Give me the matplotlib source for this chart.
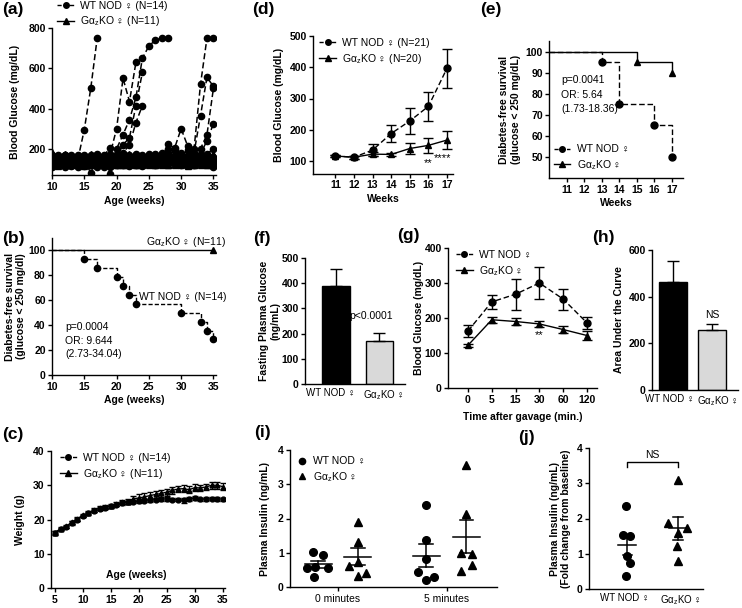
import numpy as np
import matplotlib
matplotlib.use("Agg")
import matplotlib.pyplot as plt
from matplotlib.lines import Line2D

# ---------------- data ----------------
FEM = "\u2640"
KO = "G\u03b1$_{z}$KO"

# (a) individual blood glucose, weekly from week 10
a_weeks = list(range(10, 36))
a_wt = [
    [150, 128, 165, 122, 146, 295, 500, 750],
    [135, 162, 118, 150, 108, 138, 82, 155, 130, 172, 300, 550, 435, 630],
    [120, 148, 170, 131, 160, 115, 150, 128, 165, 205, 200, 270, 345, 455, 650, 710, 740, 750, 750],
    [168, 118, 140, 162, 126, 150, 132, 170, 118, 75, 160, 220, 255, 415, 580],
    [110, 155, 128, 140, 170, 122, 160, 140, 150, 130, 175, 180, 220, 330, 415],
    [145, 120, 152, 115, 138, 168, 125, 150, 138, 160, 125, 152, 145, 160, 130, 150, 170, 155, 222, 205, 300, 215],
    [130, 165, 140, 155, 120, 142, 118, 162, 135, 150, 165, 130, 160, 120, 155, 140, 162, 150, 180, 165, 150, 155, 200, 520, 750, 750],
    [158, 135, 120, 168, 150, 128, 170, 122, 160, 118, 140, 170, 125, 168, 140, 175, 130, 160, 200, 145, 170, 135, 180, 365, 555, 510],
    [122, 150, 162, 130, 158, 140, 150, 135, 110, 165, 130, 145, 170, 135, 160, 150, 125, 180, 160, 195, 140, 165, 150, 200, 270, 500],
    [140, 118, 135, 150, 128, 160, 140, 170, 150, 125, 160, 120, 150, 172, 128, 165, 150, 140, 172, 150, 180, 140, 165, 175, 240, 325],
    [165, 140, 150, 118, 165, 130, 162, 110, 170, 140, 120, 162, 135, 150, 170, 125, 160, 170, 140, 158, 162, 195, 130, 150, 175, 200],
    [115, 160, 125, 145, 135, 150, 118, 142, 125, 155, 145, 135, 120, 160, 145, 135, 175, 125, 150, 130, 120, 150, 140, 160, 135, 160],
    [155, 125, 170, 135, 160, 118, 145, 130, 140, 112, 150, 140, 165, 125, 115, 158, 140, 165, 128, 170, 150, 120, 165, 130, 150, 110],
    [128, 170, 110, 160, 118, 165, 135, 175, 125, 150, 132, 158, 115, 145, 165, 138, 118, 150, 165, 125, 140, 168, 118, 140, 125, 140],
]
a_ko = [
    [140, 125, 160, 120, 150, 135, 165, 128, 150, 118, 160, 140, 125, 165, 140, 150, 118, 160, 135, 150, 125, 160, 140, 130, 155, 140],
    [160, 140, 118, 150, 130, 160, 120, 150, 170, 135, 150, 120, 160, 135, 150, 125, 165, 130, 150, 170, 140, 130, 165, 150, 120, 160],
    [118, 165, 140, 130, 165, 115, 150, 135, 125, 160, 120, 165, 140, 120, 160, 140, 135, 150, 120, 140, 160, 115, 150, 170, 140, 125],
    [175, 120, 150, 165, 118, 150, 135, 160, 140, 150, 175, 130, 150, 145, 125, 170, 150, 120, 165, 125, 150, 140, 125, 140, 165, 150],
    [130, 150, 170, 140, 150, 125, 160, 118, 135, 170, 140, 155, 118, 165, 135, 120, 140, 170, 140, 160, 118, 165, 150, 125, 135, 170],
    [150, 115, 135, 160, 140, 170, 128, 145, 160, 125, 135, 170, 150, 125, 170, 150, 125, 140, 155, 118, 170, 140, 120, 160, 150, 118],
    [122, 160, 150, 118, 170, 140, 150, 170, 118, 150, 160, 125, 175, 150, 120, 140, 160, 125, 118, 150, 140, 155, 170, 135, 118, 160],
    [165, 135, 125, 170, 125, 160, 118, 140, 150, 175, 118, 150, 135, 160, 150, 128, 150, 165, 150, 135, 160, 125, 140, 160, 150, 135],
    [135, 170, 160, 135, 160, 125, 175, 125, 165, 140, 150, 135, 160, 118, 140, 160, 118, 145, 170, 140, 130, 170, 118, 150, 170, 145],
    [185, 128, 140, 155, 135, 165, 140, 160, 128, 118, 170, 160, 140, 150, 160, 135, 170, 130, 140, 165, 150, 120, 160, 118, 140, 175],
    [125, 150, 175, 125, 155, 120, 150, 135, 170, 160, 130, 118, 165, 175, 128, 160, 140, 160, 125, 150, 170, 150, 135, 165, 160, 125],
]

# (b) diabetes-free survival
b_wt_weeks = [10, 15, 17, 20, 21, 22, 23, 30, 33, 34, 35]
b_wt_surv = [100, 92.9, 85.7, 78.6, 71.4, 64.3, 57.1, 50.0, 42.9, 35.7, 28.6]
b_ko_weeks = [10, 35]
b_ko_surv = [100, 100]

# (c) weight
c_weeks = list(range(5, 36))
c_wt = [16.0, 17.2, 17.8, 19.0, 20.0, 21.0, 21.8, 22.6, 23.2, 23.5, 23.8, 24.2, 24.8, 25.0, 25.2, 25.4,
        25.5, 25.6, 25.8, 25.9, 26.0, 25.8, 25.8, 25.6, 26.0, 26.3, 25.9, 26.0, 26.1, 26.0, 25.9]
c_wt_err = [0.5, 0.4, 0.4, 0.5, 0.5, 0.4, 0.4, 0.4, 0.4, 0.4, 0.4, 0.4, 0.5, 0.5, 0.5, 0.5,
            0.5, 0.5, 0.5, 0.5, 0.5, 0.5, 0.5, 0.7, 0.5, 0.5, 0.5, 0.5, 0.5, 0.5, 0.5]
c_ko = [16.2, 17.3, 18.0, 19.2, 20.2, 21.2, 22.0, 22.8, 23.3, 23.6, 24.0, 24.5, 25.0, 25.2, 26.0, 26.3,
        26.6, 27.0, 27.3, 27.6, 28.0, 28.5, 28.9, 29.0, 28.7, 29.3, 29.2, 29.5, 30.0, 30.0, 29.6]
c_ko_err = [0.5, 0.4, 0.4, 0.5, 0.5, 0.5, 0.5, 0.5, 0.5, 0.5, 0.5, 0.6, 0.6, 0.7, 1.0, 1.0,
            1.0, 1.0, 1.0, 1.0, 1.0, 1.0, 1.0, 1.0, 1.0, 1.0, 1.0, 1.0, 1.0, 1.0, 1.0]

# (d) mean blood glucose
d_weeks = [11, 12, 13, 14, 15, 16, 17]
d_wt = [116, 112, 135, 188, 228, 275, 397]
d_wt_err = [4, 4, 18, 28, 42, 47, 63]
d_ko = [116, 112, 122, 121, 140, 150, 167]
d_ko_err = [4, 4, 6, 5, 17, 23, 30]

# (e) diabetes-free survival
e_wt_weeks = [10, 13, 14, 16, 17]
e_wt_surv = [100, 95, 75, 65, 50]
e_ko_weeks = [10, 15, 17]
e_ko_surv = [100, 95, 90]

# (f) fasting glucose
bar_groups = ["WT NOD " + FEM, KO + " " + FEM]
f_vals = [390, 170]
f_err = [68, 32]

# (g) gavage time course
g_times = ["0", "5", "15", "30", "60", "120"]
g_wt = [163, 246, 268, 300, 254, 186]
g_wt_err = [17, 21, 44, 45, 30, 18]
g_ko = [122, 195, 190, 183, 167, 150]
g_ko_err = [4, 9, 10, 8, 10, 12]

# (h) AUC
h_vals = [462, 258]
h_err = [92, 25]

# (i) plasma insulin
i_times = ["0 minutes", "5 minutes"]
i_wt0 = [1.03, 0.92, 0.56, 0.58, 0.56, 0.30]
i_ko0 = [1.91, 1.30, 0.74, 0.61, 0.40, 0.32]
i_wt5 = [2.39, 1.37, 0.82, 0.43, 0.20, 0.28]
i_ko5 = [3.56, 2.13, 1.00, 0.96, 0.48, 0.64]

# (j) fold change
j_wt = [2.35, 1.52, 1.50, 0.95, 0.75, 0.38]
j_ko = [3.08, 1.88, 1.72, 1.60, 1.22, 0.80]

# ---------------- style ----------------
plt.rcParams.update({
    "font.family": ["Liberation Sans", "Noto Sans CJK JP", "DejaVu Sans"],
    "font.size": 7.5,
    "mathtext.default": "regular",
    "axes.linewidth": 1.0,
    "xtick.major.width": 1.0,
    "ytick.major.width": 1.0,
    "xtick.major.size": 3,
    "ytick.major.size": 3,
    "xtick.major.pad": 2,
    "ytick.major.pad": 1.5,
    "axes.labelweight": "bold",
    "axes.labelsize": 7.5,
    "legend.fontsize": 7.5,
})

W, H = 742, 608
fig = plt.figure(figsize=(7.42, 6.08), dpi=100)


def panel(x0, y0, x1, y1):
    ax = fig.add_axes([x0 / W, 1 - y1 / H, (x1 - x0) / W, (y1 - y0) / H])
    ax.spines[["top", "right"]].set_visible(False)
    return ax


def bold(ax, x=True, y=True):
    if x:
        plt.setp(ax.get_xticklabels(), fontweight="bold")
    if y:
        plt.setp(ax.get_yticklabels(), fontweight="bold")


def letter(x, y, s):
    fig.text(x / W, 1 - y / H, s, fontsize=12.5, fontweight="bold", va="top", ha="left")


def leg(ax, handles, labels, handlelength=1.6, **kw):
    ax.legend(handles, labels, frameon=False, handlelength=handlelength, handletextpad=0.6,
              labelspacing=0.35, borderpad=0.2, borderaxespad=0, **kw)


def group_labels(ax, shifts):
    # category names under the two groups, nudged sideways (points) so they do not collide
    ax.set_xticks([0, 1])
    ax.set_xticklabels([])
    ax.tick_params(axis="x", length=0)
    for i, (name, dx) in enumerate(zip(bar_groups, shifts)):
        ax.annotate(name, xy=(i, 0), xycoords=("data", "axes fraction"), xytext=(dx, -3),
                    textcoords="offset points", ha="center", va="top", fontsize=7)


h_wt = Line2D([], [], color="k", ls="--", marker="o", ms=4, lw=1, dashes=(3, 1.5))
h_ko = Line2D([], [], color="k", ls="-", marker="^", ms=4, lw=1)

# ---- (a)
ax = panel(52, 28, 216, 175)
for row in a_wt:
    ax.plot(a_weeks[:len(row)], row, color="k", ls="--", dashes=(4, 2), lw=1.1, marker="o", ms=4.5)
for row in a_ko:
    ax.plot(a_weeks, row, color="k", lw=1.1, marker="^", ms=4.5)
ax.set_xlim(10, 35.4)
ax.set_ylim(70, 800)
ax.set_xticks(range(10, 36, 5))
ax.set_yticks(range(200, 801, 200))
ax.set_xlabel("Age (weeks)", labelpad=3)
ax.set_ylabel("Blood Glucose (mg/dL)", labelpad=6)
bold(ax)
leg(ax, [h_wt, h_ko], ["WT NOD " + FEM + " (N=14)", KO + " " + FEM + " (N=11)"],
    loc="upper left", bbox_to_anchor=(0.02, 1.2))
letter(2, 2, "(a)")

# ---- (b)
ax = panel(52, 238, 216, 375)
ax.step(b_wt_weeks, b_wt_surv, where="post", color="k", ls="--", dashes=(3, 1.5), lw=1)
ax.plot(b_wt_weeks[1:], b_wt_surv[1:], "ko", ms=4.5)
ax.plot(b_ko_weeks, b_ko_surv, color="k", lw=1)
ax.plot(b_ko_weeks[-1:], b_ko_surv[-1:], "k^", ms=4.5)
ax.set_xlim(10, 35.4)
ax.set_ylim(0, 110)
ax.set_xticks(range(10, 36, 5))
ax.set_yticks(range(0, 101, 20))
ax.set_xlabel("Age (weeks)", labelpad=2)
ax.set_ylabel("Diabetes-free survival\n(glucose < 250 mg/dl)", labelpad=1.5)
bold(ax)
ax.text(37.0, 101.5, KO + " " + FEM + " (N=11)", ha="right", va="bottom")
ax.text(37.0, 62.5, "WT NOD " + FEM + " (N=14)", ha="right", va="center")
ax.text(12.0, 38.5, "p=0.0004", va="center")
ax.text(12.0, 27.5, "OR: 9.644", va="center")
ax.text(12.0, 16.5, "(2.73-34.04)", va="center")
letter(2, 231, "(b)")

# ---- (c)
ax = panel(51, 451, 225, 588)
ax.errorbar(c_weeks, c_ko, yerr=c_ko_err, color="k", lw=1, marker="^", ms=3.5, capsize=2, elinewidth=0.8)
ax.errorbar(c_weeks, c_wt, yerr=c_wt_err, color="k", ls="--", dashes=(3, 1.5), lw=1, marker="o",
            ms=3.5, capsize=2, elinewidth=0.8)
ax.set_xlim(4.3, 35.4)
ax.set_ylim(0, 40)
ax.set_xticks(range(5, 36, 5))
ax.set_yticks(range(0, 41, 10))
ax.text(0.49, 0.095, "Age (weeks)", transform=ax.transAxes, ha="center", va="center", fontweight="bold")
ax.set_ylabel("Weight (g)", labelpad=6)
bold(ax)
leg(ax, [h_wt, h_ko], ["WT NOD " + FEM + " (N=14)", KO + " " + FEM + " (N=11)"],
    loc="upper left", bbox_to_anchor=(0.04, 1.0))
letter(2, 427, "(c)")

# ---- (d)
ax = panel(313, 36, 453, 173.5)
ax.errorbar(d_weeks, d_wt, yerr=d_wt_err, color="k", ls="--", dashes=(4, 2), lw=1, marker="o", ms=5,
            capsize=3.5, elinewidth=1)
ax.errorbar(d_weeks, d_ko, yerr=d_ko_err, color="k", lw=1, marker="^", ms=5, capsize=3.5, elinewidth=1)
ax.set_xlim(9.8, 17.32)
ax.set_ylim(60, 500)
ax.set_xticks(d_weeks)
ax.set_yticks(range(100, 501, 100))
ax.set_xlabel("Weeks", labelpad=2.5)
ax.set_ylabel("Blood Glucose (mg/dL)", labelpad=4)
bold(ax)
ax.text(16, 93, "**", ha="center", va="center", fontsize=8)
ax.text(16.78, 108, "****", ha="center", va="center", fontsize=8)
leg(ax, [h_wt, h_ko], ["WT NOD " + FEM + " (N=21)", KO + " " + FEM + " (N=20)"],
    loc="upper left", bbox_to_anchor=(0.03, 1.0))
letter(252, 2, "(d)")

# ---- (e)
ax = panel(549, 41, 683, 178)
ax.step(e_ko_weeks, e_ko_surv, where="post", color="k", lw=1)
ax.plot(e_ko_weeks[1:], e_ko_surv[1:], "k^", ms=4.5)
ax.step(e_wt_weeks, e_wt_surv, where="post", color="k", ls="--", dashes=(4, 2), lw=1)
ax.plot(e_wt_weeks[1:], e_wt_surv[1:], "ko", ms=5)
ax.set_xlim(10, 17.63)
ax.set_ylim(40, 105)
ax.set_xticks(range(11, 18))
ax.set_yticks(range(50, 101, 10))
ax.set_xlabel("Weeks", labelpad=2)
ax.set_ylabel("Diabetes-free survival\n(glucose < 250 mg/dL)", labelpad=3.5)
bold(ax)
ax.text(10.7, 86.5, "p=0.0041", va="center")
ax.text(10.7, 79.6, "OR: 5.64", va="center")
ax.text(10.7, 72.8, "(1.73-18.36)", va="center")
leg(ax, [h_wt, h_ko], ["WT NOD " + FEM, KO + " " + FEM], loc="lower left", bbox_to_anchor=(0.02, 0.03))
letter(480, 2, "(e)")

# ---- (f)
ax = panel(305, 258, 405, 384)
ax.bar([0, 1], f_vals, width=0.63, color=["k", "#d9d9d9"], edgecolor="k", lw=1,
       yerr=[[0, 0], f_err], capsize=4.5, error_kw={"elinewidth": 1, "capthick": 1})
ax.set_xlim(-0.72, 1.6)
ax.set_ylim(0, 500)
group_labels(ax, [-4, 3])
ax.set_yticks(range(0, 501, 100))
ax.set_ylabel("Fasting Plasma Glucose\n(ng/mL)", labelpad=1)
bold(ax, x=False)
ax.text(0.82, 270, "p<0.0001", ha="center", va="center")
letter(253, 231, "(f)")

# ---- (g)
ax = panel(448, 248, 597, 388)
gx = np.arange(len(g_times))
ax.errorbar(gx, g_wt, yerr=g_wt_err, color="k", ls="--", dashes=(4, 2), lw=1, marker="o", ms=5,
            capsize=3.5, elinewidth=1)
ax.errorbar(gx, g_ko, yerr=g_ko_err, color="k", lw=1, marker="^", ms=5, capsize=3.5, elinewidth=1)
ax.set_xlim(-0.84, 5.42)
ax.set_ylim(0, 400)
ax.set_xticks(gx)
ax.set_xticklabels(g_times)
ax.set_yticks(range(0, 401, 100))
ax.set_xlabel("Time after gavage (min.)", labelpad=5)
ax.set_ylabel("Blood Glucose (mg/dL)", labelpad=0.5)
bold(ax)
ax.text(3, 151, "**", ha="center", va="center", fontsize=8)
leg(ax, [h_wt, h_ko], ["WT NOD " + FEM, KO + " " + FEM], loc="upper left", bbox_to_anchor=(0.04, 1.0))
letter(397, 228, "(g)")

# ---- (h)
ax = panel(652, 250, 738, 390)
ax.bar([0, 1], h_vals, width=0.72, color=["k", "#d9d9d9"], edgecolor="k", lw=1,
       yerr=[[0, 0], h_err], capsize=4.5, error_kw={"elinewidth": 1, "capthick": 1})
ax.set_xlim(-0.54, 1.67)
ax.set_ylim(0, 600)
group_labels(ax, [-2.5, 4])
ax.set_yticks(range(0, 601, 200))
ax.set_ylabel("Area Under the Curve", labelpad=3)
bold(ax, x=False)
ax.text(1, 321, "NS", ha="center", va="center")
letter(592, 230, "(h)")


def dots(ax, center, offsets, vals, marker, half, cap):
    ax.plot([center + o for o in offsets], vals, "k" + marker, ms=5.5, ls="none")
    m = np.mean(vals)
    se = np.std(vals, ddof=1) / np.sqrt(len(vals))
    ax.plot([center - half, center + half], [m, m], "k-", lw=1.1)
    ax.plot([center, center], [m - se, m + se], "k-", lw=1.1)
    ax.plot([center - cap, center + cap], [m - se, m - se], "k-", lw=1.1)
    ax.plot([center - cap, center + cap], [m + se, m + se], "k-", lw=1.1)


# ---- (i)
ax = panel(290, 450, 497, 587)
dots(ax, -0.18, [-0.05, 0.04, -0.10, -0.03, 0.09, -0.04], i_wt0, "o", 0.125, 0.064)
dots(ax, 0.18, [0.0, 0.0, 0.0, -0.08, 0.08, 0.0], i_ko0, "^", 0.125, 0.064)
dots(ax, 0.81, [0.0, 0.0, 0.0, -0.076, 0.0, 0.076], i_wt5, "o", 0.125, 0.064)
dots(ax, 1.18, [0.0, 0.0, -0.046, 0.046, -0.046, 0.046], i_ko5, "^", 0.125, 0.064)
ax.set_xlim(-0.44, 1.46)
ax.set_ylim(0, 4)
ax.set_xticks([0, 1])
ax.set_xticklabels(i_times)
ax.set_yticks(range(0, 5))
ax.set_ylabel("Plasma Insulin (ng/mL)", labelpad=5.5)
bold(ax, x=False)
leg(ax, [Line2D([], [], color="k", marker="o", ls="none", ms=4.5),
         Line2D([], [], color="k", marker="^", ls="none", ms=4.5)],
    ["WT NOD " + FEM, KO + " " + FEM], handlelength=0.8,
    loc="upper left", bbox_to_anchor=(0.03, 0.97))
letter(254, 425, "(i)")

# ---- (j)
ax = panel(589, 448, 703, 589)
dots(ax, 0, [-0.02, -0.09, 0.06, 0.0, 0.06, -0.02], j_wt, "o", 0.18, 0.09)
dots(ax, 1, [0.0, -0.19, 0.17, 0.0, -0.03, 0.0], j_ko, "^", 0.18, 0.09)
ax.plot([0, 0, 1, 1], [3.46, 3.6, 3.6, 3.46], "k-", lw=1)
ax.text(0.5, 3.66, "NS", ha="center", va="bottom")
ax.set_xlim(-0.75, 1.49)
ax.set_ylim(0, 4)
group_labels(ax, [-2, 1.5])
ax.set_yticks(range(0, 5))
ax.set_ylabel("Plasma Insulin (ng/mL)\n(Fold change from baseline)", labelpad=4)
bold(ax, x=False)
letter(518, 430, "(j)")

fig.savefig("out.png", dpi=100, facecolor="white")
